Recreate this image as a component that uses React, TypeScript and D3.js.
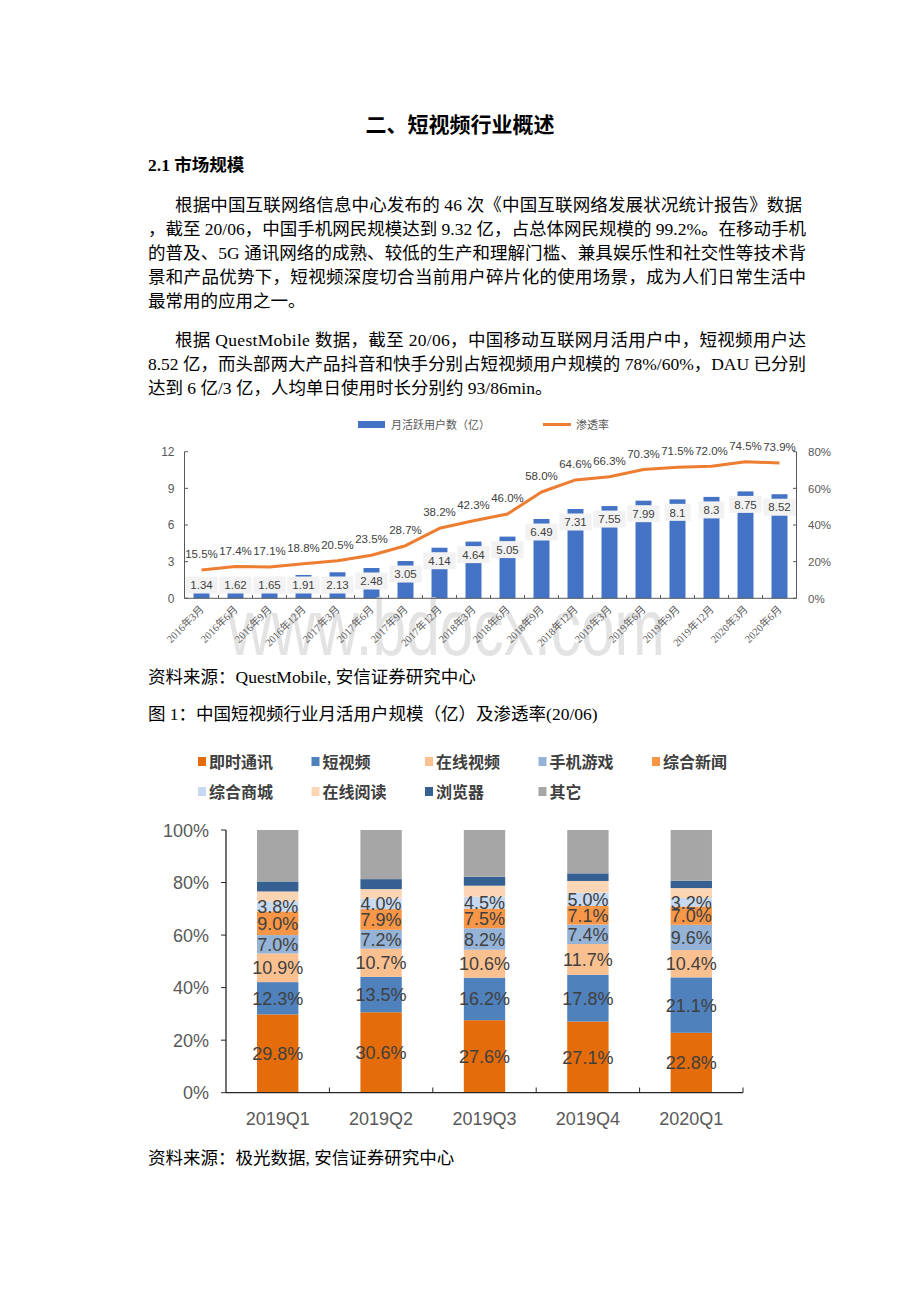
import React from 'react';
import * as d3 from 'd3';

// ---------- Chart 1 data ----------
const months = ['2016年3月', '2016年6月', '2016年9月', '2016年12月', '2017年3月', '2017年6月', '2017年9月', '2017年12月', '2018年3月', '2018年6月', '2018年9月', '2018年12月', '2019年3月', '2019年6月', '2019年9月', '2019年12月', '2020年3月', '2020年6月'];
const mau = [1.34, 1.62, 1.65, 1.91, 2.13, 2.48, 3.05, 4.14, 4.64, 5.05, 6.49, 7.31, 7.55, 7.99, 8.1, 8.3, 8.75, 8.52];
const penetration = [15.5, 17.4, 17.1, 18.8, 20.5, 23.5, 28.7, 38.2, 42.3, 46.0, 58.0, 64.6, 66.3, 70.3, 71.5, 72.0, 74.5, 73.9];
const leftTicks = [0, 3, 6, 9, 12];
const rightTicks = [0, 20, 40, 60, 80];

// ---------- Chart 2 data ----------
const quarters = ['2019Q1', '2019Q2', '2019Q3', '2019Q4', '2020Q1'];
const categories = ['即时通讯', '短视频', '在线视频', '手机游戏', '综合新闻', '综合商城', '在线阅读', '浏览器', '其它'];
const catColors = ['#E46C0A', '#4F81BD', '#FAC090', '#95B3D7', '#F79646', '#C6D9F1', '#FCD5B5', '#376092', '#A6A6A6'];
const imShare = [29.8, 30.6, 27.6, 27.1, 22.8];
const shortVideoShare = [12.3, 13.5, 16.2, 17.8, 21.1];
const onlineVideoShare = [10.9, 10.7, 10.6, 11.7, 10.4];
const mobileGameShare = [7.0, 7.2, 8.2, 7.4, 9.6];
const newsShare = [9.0, 7.9, 7.5, 7.1, 7.0];
const mallShare = [3.8, 4.0, 4.5, 5.0, 3.2];
const readingShare = [3.8, 3.6, 4.2, 4.5, 3.8];
const browserShare = [3.8, 3.8, 3.4, 2.9, 2.8];
const otherShare = [19.6, 18.7, 17.8, 16.5, 19.3];
const labeledCount = 6;
const pctTicks = [0, 20, 40, 60, 80, 100];

// ---------- Text ----------
const para1 = [
  '根据中国互联网络信息中心发布的 46 次《中国互联网络发展状况统计报告》数据',
  '，截至 20/06，中国手机网民规模达到 9.32 亿，占总体网民规模的 99.2%。在移动手机',
  '的普及、5G 通讯网络的成熟、较低的生产和理解门槛、兼具娱乐性和社交性等技术背',
  '景和产品优势下，短视频深度切合当前用户碎片化的使用场景，成为人们日常生活中',
  '最常用的应用之一。',
];
const para2 = [
  '根据 QuestMobile 数据，截至 20/06，中国移动互联网月活用户中，短视频用户达',
  '8.52 亿，而头部两大产品抖音和快手分别占短视频用户规模的 78%/60%，DAU 已分别',
  '达到 6 亿/3 亿，人均单日使用时长分别约 93/86min。',
];

const BODY = '"Liberation Serif", "Times New Roman", "Noto Sans CJK SC", serif';
const SANS = '"Liberation Sans", Arial, "Noto Sans CJK SC", sans-serif';
const CJK = '"Noto Sans CJK SC", sans-serif';

function textW(s: string, fs: number) {
  let w = 0;
  for (const c of s) {
    if (c === '.') w += 0.278;
    else if (c === '%') w += 0.889;
    else w += 0.556;
  }
  return w * fs;
}

export default function App() {
  // Chart 1 scales
  const x1 = d3.scaleBand<string>().domain(months).range([184.5, 796.5]).paddingInner(0.53).paddingOuter(0.265);
  const yL = d3.scaleLinear().domain([0, 12]).range([598.3, 451.7]);
  const yR = d3.scaleLinear().domain([0, 80]).range([598.3, 451.7]);
  const cx = (i: number) => (x1(months[i]) as number) + x1.bandwidth() / 2;
  const linePath = d3.line<number>().x((_, i) => cx(i)).y((d) => yR(d))(penetration) || '';

  // Chart 2 scales
  const x2 = d3.scaleBand<string>().domain(quarters).range([226, 743]).paddingInner(0.6).paddingOuter(0.3);
  const y2 = d3.scaleLinear().domain([0, 100]).range([1092.7, 830]);
  const series = [imShare, shortVideoShare, onlineVideoShare, mobileGameShare, newsShare, mallShare, readingShare, browserShare, otherShare];
  const table = quarters.map((q, qi) => {
    const row: any = { q };
    categories.forEach((c, ci) => (row[c] = series[ci][qi]));
    return row;
  });
  const stacked = d3.stack<any>().keys(categories)(table);

  const fullLineEnd = 806;

  return (
    <svg width={920} height={1302} style={{ position: 'absolute', left: 0, top: 0, background: '#fff' }}>
      <rect x={0} y={0} width={920} height={1302} fill="#fff" />
      {/* Title */}
      <text x={460} y={132} textAnchor="middle" fontFamily={BODY} fontSize={21} fontWeight="bold" fill="#000">二、短视频行业概述</text>
      <text x={148} y={171} fontFamily={BODY} fontSize={17.5} fontWeight="bold" fill="#000">2.1 市场规模</text>
      {para1.map((t, i) => {
        const x = i === 0 ? 175 : 148;
        const last = i === para1.length - 1;
        return (
          <text key={'p1' + i} x={x} y={211 + i * 24} fontFamily={BODY} fontSize={17.5} fill="#000"
            {...(last ? {} : { textLength: (i === 0 ? 802 : fullLineEnd) - x, lengthAdjust: 'spacing' })}>{t}</text>
        );
      })}
      {para2.map((t, i) => {
        const x = i === 0 ? 175 : 148;
        const last = i === para2.length - 1;
        return (
          <text key={'p2' + i} x={x} y={346 + i * 24} fontFamily={BODY} fontSize={17.5} fill="#000"
            {...(last ? {} : { textLength: fullLineEnd - x, lengthAdjust: 'spacing' })}>{t}</text>
        );
      })}

      {/* Chart 1 legend */}
      <rect x={358} y={421} width={27} height={7} fill="#4472C4" />
      <text x={391} y={428.5} fontFamily={CJK} fontSize={11} fill="#595959">月活跃用户数（亿）</text>
      <line x1={543} x2={571} y1={424.5} y2={424.5} stroke="#ED7D31" strokeWidth={3} />
      <text x={576} y={428.5} fontFamily={CJK} fontSize={11} fill="#595959">渗透率</text>

      {/* Chart 1 bars */}
      {mau.map((v, i) => (
        <rect key={'b' + i} x={x1(months[i])} y={yL(v)} width={x1.bandwidth()} height={yL(0) - yL(v)} fill="#4472C4" />
      ))}

      {/* watermark */}
      <text x={228} y={655} fontFamily={SANS} fontSize={80} fill="#dcdcdc" fillOpacity={0.8} textLength={437} lengthAdjust="spacingAndGlyphs">www.bdocx.com</text>

      {/* axes chart 1 */}
      <line x1={184.5} x2={184.5} y1={451.7} y2={598.3} stroke="#595959" strokeWidth={1} />
      <line x1={796.5} x2={796.5} y1={451.7} y2={598.3} stroke="#595959" strokeWidth={1} />
      <line x1={184.5} x2={796.5} y1={598.3} y2={598.3} stroke="#595959" strokeWidth={1} />
      {leftTicks.map((t) => (
        <g key={'lt' + t}>
          <line x1={184.5} x2={188} y1={yL(t)} y2={yL(t)} stroke="#595959" />
          <text x={174.5} y={yL(t) + 4.3} textAnchor="end" fontFamily={SANS} fontSize={12} fill="#595959">{t}</text>
        </g>
      ))}
      {rightTicks.map((t) => (
        <g key={'rt' + t}>
          <line x1={793} x2={796.5} y1={yR(t)} y2={yR(t)} stroke="#595959" />
          <text x={808} y={yR(t) + 4.3} fontFamily={SANS} fontSize={11.5} fill="#595959">{t}%</text>
        </g>
      ))}
      {months.map((m, i) => (
        <line key={'xt' + i} x1={x1.step() * i + 184.5} x2={x1.step() * i + 184.5} y1={598.3} y2={595} stroke="#595959" />
      ))}
      {months.map((m, i) => (
        <text key={'xl' + i} transform={`translate(${cx(i) + 3},${610}) rotate(-45)`} textAnchor="end"
          fontFamily={BODY} fontSize={10.5} fill="#595959">{m}</text>
      ))}

      {/* bar labels */}
      {mau.map((v, i) => {
        const cy = Math.min(yL(v) + 13, 585);
        const w = textW(String(v), 11.5) + 10;
        return (
          <g key={'bl' + i}>
            <rect x={cx(i) - w / 2} y={cy - 8.5} width={w} height={17} fill="#F2F2F2" />
            <text x={cx(i)} y={cy + 4.2} textAnchor="middle" fontFamily={SANS} fontSize={11.5} fill="#404040">{String(v)}</text>
          </g>
        );
      })}

      {/* line */}
      <path d={linePath} fill="none" stroke="#ED7D31" strokeWidth={3} strokeLinejoin="round" />
      {penetration.map((p, i) => (
        <text key={'pl' + i} x={cx(i)} y={yR(p) - 16 + 4.2} textAnchor="middle" fontFamily={SANS} fontSize={11.5} fill="#404040">{p.toFixed(1)}%</text>
      ))}

      {/* captions */}
      <text x={148} y={683} fontFamily={BODY} fontSize={17.5} fill="#000">资料来源：QuestMobile, 安信证券研究中心</text>
      <text x={148} y={720} fontFamily={BODY} fontSize={17.5} fill="#000">图 1：中国短视频行业月活用户规模（亿）及渗透率(20/06)</text>

      {/* Chart 2 legend */}
      {categories.map((c, i) => {
        const col = i % 5;
        const row = Math.floor(i / 5);
        const lx = 198 + col * 113.5;
        const ly = 762 + row * 30;
        return (
          <g key={'lg' + i}>
            <rect x={lx} y={ly - 5} width={8} height={9} fill={catColors[i]} />
            <text x={lx + 11} y={ly + 5.5} fontFamily={CJK} fontSize={16} fontWeight="bold" fill="#404040">{c}</text>
          </g>
        );
      })}

      {/* Chart 2 bars */}
      {stacked.map((s, si) => (
        <g key={'s' + si}>
          {s.map((d, qi) => (
            <rect key={qi} x={x2(quarters[qi])} y={y2(d[1])} width={x2.bandwidth()} height={y2(d[0]) - y2(d[1])} fill={catColors[si]} />
          ))}
        </g>
      ))}
      {stacked.slice(0, labeledCount).map((s, si) => (
        <g key={'sl' + si}>
          {s.map((d, qi) => (
            <text key={qi} x={(x2(quarters[qi]) as number) + x2.bandwidth() / 2} y={(y2(d[0]) + y2(d[1])) / 2 + 6.5}
              textAnchor="middle" fontFamily={SANS} fontSize={18} fill="#404040">{series[si][qi].toFixed(1)}%</text>
          ))}
        </g>
      ))}

      {/* Chart 2 axes */}
      <line x1={226} x2={226} y1={830} y2={1092.7} stroke="#262626" strokeWidth={1.3} />
      <line x1={226} x2={743} y1={1092.7} y2={1092.7} stroke="#262626" strokeWidth={1.3} />
      {pctTicks.map((t) => (
        <g key={'pt' + t}>
          <line x1={221} x2={226} y1={y2(t)} y2={y2(t)} stroke="#262626" />
          <text x={209} y={y2(t) + 6.5} textAnchor="end" fontFamily={SANS} fontSize={18} fill="#595959">{t}%</text>
        </g>
      ))}
      {quarters.map((q, i) => (
        <g key={'q' + i}>
          <line x1={226 + x2.step() * (i + 1)} x2={226 + x2.step() * (i + 1)} y1={1092.7} y2={1087.5} stroke="#262626" />
          <text x={(x2(q) as number) + x2.bandwidth() / 2} y={1124.5} textAnchor="middle" fontFamily={SANS} fontSize={18} fill="#595959">{q}</text>
        </g>
      ))}

      <text x={148} y={1164} fontFamily={BODY} fontSize={17.5} fill="#000">资料来源：极光数据, 安信证券研究中心</text>
    </svg>
  );
}
